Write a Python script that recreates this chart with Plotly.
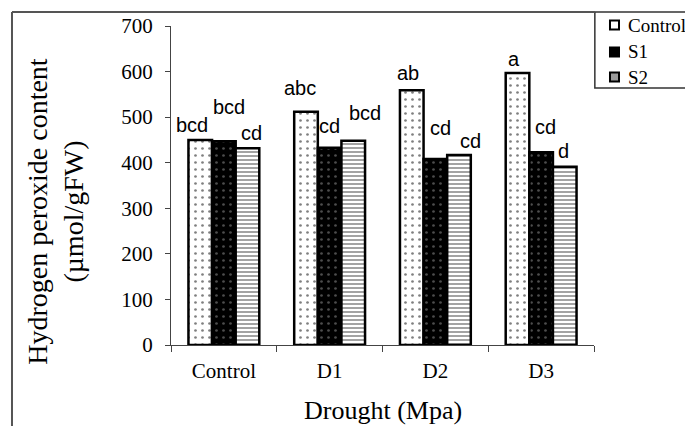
import plotly.graph_objects as go

categories = ["Control", "D1", "D2", "D3"]
series_names = ["Control", "S1", "S2"]
control_vals = [450, 512, 559, 597]
s1_vals = [447, 433, 408, 423]
s2_vals = [432, 448, 417, 391]
control_letters = ["bcd", "abc", "ab", "a"]
s1_letters = ["bcd", "cd", "cd", "cd"]
s2_letters = ["cd", "bcd", "cd", "d"]
y_ticks = [0, 100, 200, 300, 400, 500, 600, 700]

# style: label pixel offsets (dx from category centre, dy above bar top)
label_dx = [[-32, 5, 28], [-30, 0, 35], [-27, 5, 35], [-27, 4, 22]]
label_dy = [[15, 34, 15], [24, 22, 28], [17, 31, 14], [14, 25, 16]]

serif = "Liberation Serif, Times New Roman, serif"
sans = "Liberation Sans, Arial, sans-serif"

fig = go.Figure()
fig.add_trace(go.Bar(
    name=series_names[0], x=categories, y=control_vals, showlegend=False,
    marker=dict(color="white", line=dict(color="black", width=2.5),
                pattern=dict(shape=".", fgcolor="black", bgcolor="white", size=7, solidity=0.12)),
))
fig.add_trace(go.Bar(
    name=series_names[1], x=categories, y=s1_vals, showlegend=False,
    marker=dict(color="black", line=dict(color="black", width=2.5),
                pattern=dict(shape=".", fgcolor="#9a9a9a", bgcolor="black", size=7, solidity=0.12)),
))
fig.add_trace(go.Bar(
    name=series_names[2], x=categories, y=s2_vals, showlegend=False,
    marker=dict(color="white", line=dict(color="black", width=2.5),
                pattern=dict(shape="-", fgcolor="#333333", bgcolor="white", size=4, solidity=0.45)),
))

all_vals = [control_vals, s1_vals, s2_vals]
all_letters = [control_letters, s1_letters, s2_letters]
for ci, cat in enumerate(categories):
    for si in range(3):
        fig.add_annotation(
            x=cat, y=all_vals[si][ci], text=all_letters[si][ci],
            xref="x", yref="y", showarrow=False,
            xshift=label_dx[ci][si], yshift=label_dy[ci][si],
            xanchor="center", yanchor="middle",
            font=dict(family=sans, size=20, color="black"),
        )

# axis titles
fig.add_annotation(
    x=-0.275, y=0.42, xref="paper", yref="paper", showarrow=False,
    text="Hydrogen peroxide content<br>(µmol/gFW)", textangle=-90,
    font=dict(family=serif, size=28, color="black"),
    xanchor="center", yanchor="middle",
)
fig.add_annotation(
    x=0.501, y=-0.204, xref="paper", yref="paper", showarrow=False,
    text="Drought (Mpa)", font=dict(family=serif, size=26, color="black"),
    xanchor="center", yanchor="middle",
)

# outer frame and legend box
fig.add_shape(type="line", xref="paper", yref="paper",
              x0=-0.3759, x1=-0.3759, y0=1.0439, y1=-0.30,
              line=dict(color="#555555", width=2))
fig.add_shape(type="line", xref="paper", yref="paper",
              x0=-0.3759, x1=1.002, y0=1.0439, y1=1.0439,
              line=dict(color="#555555", width=2))
fig.add_shape(type="rect", xref="paper", yref="paper",
              x0=1.002, x1=1.30, y0=1.0439, y1=0.8056,
              line=dict(color="#333333", width=1.5), fillcolor="white", layer="below")

# legend entries (swatch + name) drawn inside the box
legend_y = [1.0031, 0.9185, 0.8401]
swatch_fill = ["white", "black", "#9a9a9a"]
for name, yc, fillc in zip(series_names, legend_y, swatch_fill):
    fig.add_shape(type="rect", xref="paper", yref="paper",
                  x0=1.0378, x1=1.0591, y0=yc - 0.014, y1=yc + 0.014,
                  line=dict(color="black", width=2), fillcolor=fillc)
    fig.add_annotation(x=1.076, y=yc, xref="paper", yref="paper", showarrow=False,
                       text=name, xanchor="left", yanchor="middle",
                       font=dict(family=serif, size=19, color="black"))

# page body has an 8px margin, so the figure is 8px smaller and margins shifted
fig.update_layout(
    width=685, height=418,
    margin=dict(l=163, r=99, t=18, b=81, autoexpand=False),
    paper_bgcolor="white", plot_bgcolor="white",
    barmode="group", bargap=0.33, bargroupgap=0.0,
    showlegend=False,
    xaxis=dict(
        showline=True, linecolor="#444444", linewidth=1.2, automargin=False,
        ticks="outside", ticklen=6, tickcolor="#444444", tickson="boundaries",
        tickfont=dict(family=serif, size=21, color="black"),
        ticklabelstandoff=7, showgrid=False, zeroline=False,
    ),
    yaxis=dict(
        range=[0, 700], tickvals=y_ticks, automargin=False,
        showline=True, linecolor="#444444", linewidth=1.2,
        ticks="outside", ticklen=5, tickcolor="#444444",
        tickfont=dict(family=serif, size=21, color="black"),
        ticklabelstandoff=8, showgrid=False, zeroline=False,
    ),
)

fig.write_html("out.html")
